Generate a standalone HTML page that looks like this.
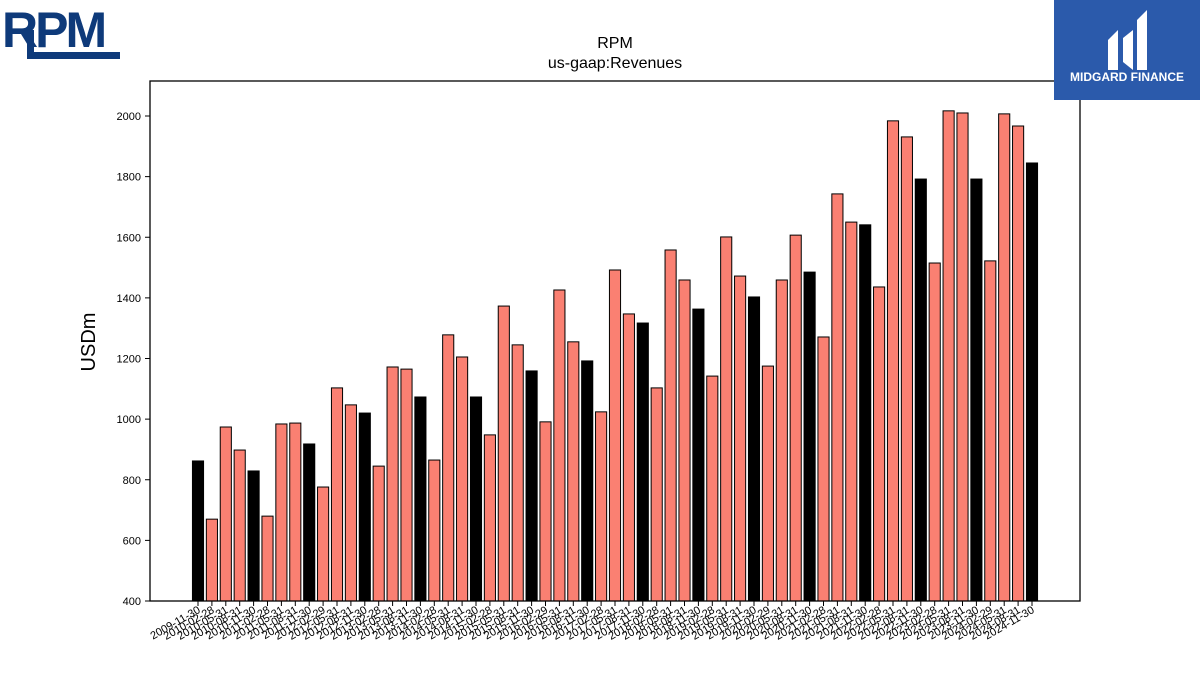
<!DOCTYPE html>
<html><head><meta charset="utf-8"><style>
body{margin:0;background:#fff;width:1200px;height:675px;overflow:hidden;font-family:"Liberation Sans","DejaVu Sans",sans-serif}
</style></head><body>
<svg id="chart" width="1200" height="675" xmlns="http://www.w3.org/2000/svg" style="position:absolute;left:0;top:0">
<g fill="#0e3a7a">
<text x="2" y="47" font-size="50" font-weight="bold" font-family="Liberation Sans, sans-serif" letter-spacing="-3" fill="#0e3a7a">RPM</text>
<rect x="27" y="52" width="93" height="7"/>
<rect x="27" y="30" width="7" height="29"/>
</g>
<text x="615" y="48" font-size="16" text-anchor="middle">RPM</text>
<text x="615" y="68" font-size="16" text-anchor="middle">us-gaap:Revenues</text>
<text x="95" y="342" font-size="20" text-anchor="middle" transform="rotate(-90 95 342)">USDm</text>
<g id="plot"></g>
<rect x="150" y="81" width="930" height="520" fill="none" stroke="#000" stroke-width="1.3"/>
<g>
<rect x="1054" y="0" width="146" height="100" fill="#2b5aab"/>
<path d="M1108 40 L1118 30 L1118 70 L1108 70 Z M1123 38 L1133 30 L1133 70 L1123 62 Z M1137 20 L1147 10 L1147 70 L1137 70 Z" fill="#fff"/>
<text x="1127" y="81" font-size="12" font-weight="bold" fill="#fff" text-anchor="middle">MIDGARD FINANCE</text>
</g>
</svg>
<script>
const labels=[];
(function(){const md=["11-30","02-28","05-31","08-31"];let y=2009;for(let i=0;i<61;i++){const q=i%4;if(q===1)y++;let d=md[q];if(q===1&&y%4===0)d="02-29";labels.push(y+"-"+d);}})();
const values=[862,670,974,898,829,680,984,987,918,776,1103,1047,1020,845,1172,1165,1073,865,1278,1205,1073,948,1373,1245,1159,991,1426,1255,1192,1024,1492,1347,1317,1103,1558,1459,1363,1142,1601,1472,1403,1175,1459,1607,1485,1271,1743,1650,1641,1436,1984,1931,1792,1515,2017,2010,1792,1522,2007,1967,1845];
const yTicks=[400,600,800,1000,1200,1400,1600,1800,2000];
const NS="http://www.w3.org/2000/svg";
const g=document.getElementById('plot');
const yMin=400,yMax=2116/1;
function ys(v){return 601-(v-400)*(485/1600);}
const x0=198,step=(1032-198)/60,bw=step*0.8;
function xs(i){return x0+i*step;}
function mk(t,a){const e=document.createElementNS(NS,t);for(const k in a)e.setAttribute(k,a[k]);g.appendChild(e);return e;}
yTicks.forEach(v=>{
 const l=mk('line',{x1:145,x2:150,y1:ys(v),y2:ys(v),stroke:'#000'});
 
 
 const t=mk('text',{x:141,y:ys(v)+4,'font-size':11,'text-anchor':'end'});t.textContent=v;
 
 
});
values.forEach((v,i)=>{
 const r=mk('rect',{x:xs(i)-bw/2,y:ys(v),width:bw,height:601-ys(v),fill:i%4===0?'#000':'#fa8072',stroke:'#000','stroke-width':1});
 
 
 const tk=mk('line',{x1:xs(i),x2:xs(i),y1:601,y2:606,stroke:'#000'});
 
 
 const t=mk('text',{x:xs(i)+3,y:612,'font-size':11,'text-anchor':'end',transform:`rotate(-30 ${xs(i)+3} 612)`});
 t.textContent=labels[i];
 
 
});
</script>
</body></html>
